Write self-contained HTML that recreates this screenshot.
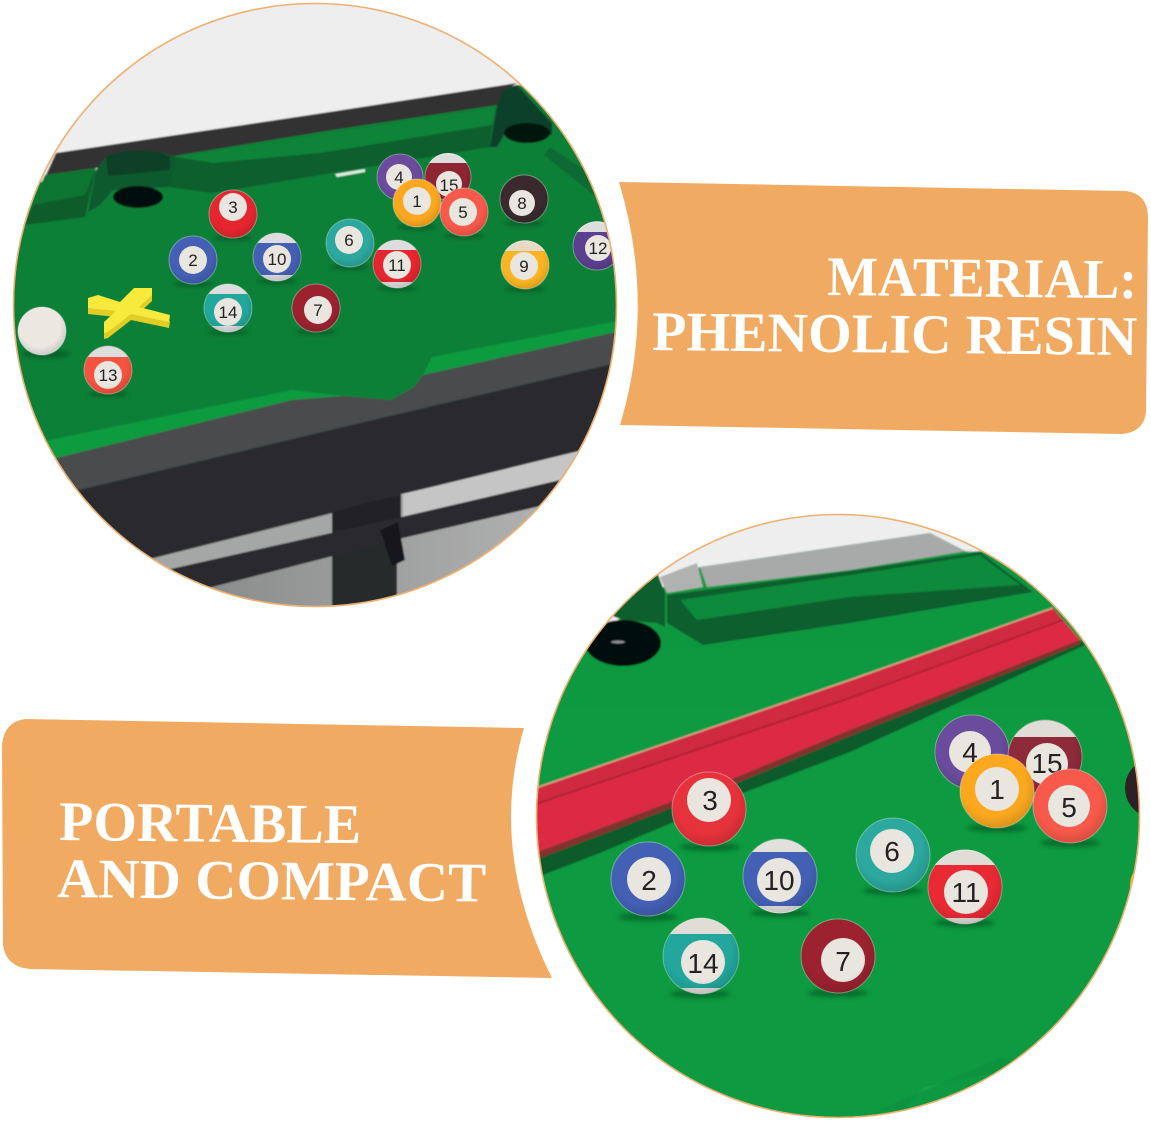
<!DOCTYPE html>
<html><head><meta charset="utf-8">
<style>html,body{margin:0;padding:0;background:#fff}svg{display:block}
text{font-family:"Liberation Sans",sans-serif}
.n{fill:#222;text-anchor:middle;font-size:17px}
.N{fill:#222;text-anchor:middle;font-size:28px}
.t{font-family:"Liberation Serif",serif!important;font-weight:bold;fill:#fff}
.i{fill:#e9e5df}
.s{fill:#034a1f;opacity:.55}
circle[fill="url(#sh)"]{stroke:#fff;stroke-opacity:.35;stroke-width:1}
</style></head><body>
<svg width="1151" height="1124" viewBox="0 0 1151 1124" xmlns="http://www.w3.org/2000/svg">
<defs>
<clipPath id="c1"><circle cx="315" cy="305" r="301"/></clipPath>
<clipPath id="c2"><circle cx="838" cy="816" r="301"/></clipPath>
<filter id="b" x="-5%" y="-5%" width="110%" height="110%"><feGaussianBlur stdDeviation="0.8"/></filter>
<filter id="b3" x="-30%" y="-100%" width="160%" height="300%"><feGaussianBlur stdDeviation="2"/></filter>
<radialGradient id="sh" cx="45%" cy="40%" r="62%"><stop offset="70%" stop-color="#000" stop-opacity="0"/><stop offset="100%" stop-color="#000" stop-opacity=".14"/></radialGradient>
<linearGradient id="f2" x1="0" y1="0" x2="0" y2="1"><stop offset="0" stop-color="#10963f"/><stop offset=".4" stop-color="#0c9a41"/><stop offset="1" stop-color="#0a9a40"/></linearGradient>
<linearGradient id="g1" x1="0" y1="0" x2="1" y2="0"><stop offset="0" stop-color="#7f8180"/><stop offset="1" stop-color="#b9bab9"/></linearGradient>
</defs>

<!-- top circle -->
<g clip-path="url(#c1)">
<g filter="url(#b)">
<rect x="0" y="0" width="640" height="620" fill="#eeeeef"/>
<rect x="100" y="480" width="530" height="140" fill="url(#g1)"/>
<!-- felt -->
<polygon points="0,190 517,85 640,85 640,400 300,480 0,520" fill="#0b8038"/>
<!-- back rail -->
<polygon points="56,153 323,113 517,83 503,92 497,105 320,132 180,155 96,168 46,175" fill="#303232"/>
<!-- left cushion -->
<polygon points="45,175 96,168 85,217 25,225" fill="#0a5c2c"/>
<polygon points="45,175 96,168 85,195 32,205" fill="#0a7533"/>
<!-- pocket hump -->
<path d="M96,170 L106,157 Q120,148 160,152 L176,157 L213,163 L213,193 L170,187 L113,190 L100,205 L88,212Z" fill="#0a5a2d"/>
<path d="M106,157 Q120,148 160,152 L170,157 L170,170 L108,176Z" fill="#083f26"/>
<ellipse cx="138" cy="197" rx="25" ry="11" fill="#040d09"/>
<!-- long back cushion -->
<polygon points="176,157 323,134 495,107 490,147 320,175 213,193 170,187" fill="#0a5e2d"/>
<polygon points="176,157 323,134 495,107 492,125 320,153 213,163" fill="#0a8438"/>
<!-- corner pocket -->
<path d="M503,90 L517,85 L552,123 L552,135 L505,133 L497,147 L490,147 L497,105Z" fill="#07402a"/>
<ellipse cx="527" cy="133" rx="23" ry="10" fill="#05120c"/>
<polygon points="550,147 544,155 600,200 600,180" fill="#0a6a30"/>
<!-- front cushion and rail -->
<polygon points="40,442 292,390 343,396 391,400 414,387 423,375 432,357 613,322 620,322 620,333 423,375 414,387 391,400 343,396 292,400 62,459 40,461" fill="#0a9b40"/>
<polygon points="44,461 292,400 343,396 391,400 414,387 423,375 620,331 620,362 343,427 70,492" fill="#4a4b4e"/>
<polygon points="0,470 44,461 70,492 129,564 100,580 0,580" fill="#2a2c2f" opacity="0"/>
<polygon points="70,492 343,427 620,362 620,446 401,494 336,512 129,564" fill="#2a2c2f"/>
<!-- below rail -->
<polygon points="131,564 332,514 332,533 144,575" fill="#a5a7a6"/>
<polygon points="403,494 587,449 573,477 403,517" fill="#c4c5c4"/>
<polygon points="332,512 401,494 401,525 332,540" fill="#222426"/>
<rect x="332" y="530" width="65" height="90" fill="#27292b"/>
<polygon points="144,575 380,522 573,477 562,501 403,538 177,596" fill="#2a2c2e"/>
<polygon points="380,530 398,522 405,560 392,566" fill="#17191a"/>
<path d="M397,616 Q408,605 447,601 L447,620 L397,620Z" fill="#17191a"/>
<polygon points="335,174 365,169 365,172 337,177" fill="#dfeee4"/>
</g>
<!-- cue ball -->
<ellipse cx="46" cy="354" rx="24" ry="4" class="s" filter="url(#b3)"/>
<circle cx="42" cy="331" r="24" fill="#ece7e1"/><circle cx="42" cy="331" r="24" fill="url(#sh)"/>
<!-- chalk -->
<polygon transform="translate(0,6)" points="88,298 98,295 120,302 134,288 152,288 152,295 139,307 170,315 169,322 131,314 108,332 104,333 104,322 116,311 88,308" fill="#e2cd25"/>
<polygon points="88,298 98,295 120,302 134,288 152,288 152,295 139,307 170,315 169,322 131,314 108,332 104,333 104,322 116,311 88,308" fill="#f7ea3c"/>
<!-- balls top -->
<g>
<ellipse cx="233" cy="238" rx="20" ry="3" class="s" filter="url(#b3)"/>
<ellipse cx="193" cy="284" rx="20" ry="3" class="s" filter="url(#b3)"/>
<ellipse cx="277" cy="281" rx="20" ry="3" class="s" filter="url(#b3)"/>
<ellipse cx="228" cy="332" rx="20" ry="3" class="s" filter="url(#b3)"/>
<ellipse cx="316" cy="332" rx="20" ry="3" class="s" filter="url(#b3)"/>
<ellipse cx="350" cy="267" rx="20" ry="3" class="s" filter="url(#b3)"/>
<ellipse cx="397" cy="288" rx="20" ry="3" class="s" filter="url(#b3)"/>
<ellipse cx="108" cy="394" rx="20" ry="3" class="s" filter="url(#b3)"/>
<ellipse cx="417" cy="227" rx="20" ry="3" class="s" filter="url(#b3)"/>
<ellipse cx="464" cy="236" rx="20" ry="3" class="s" filter="url(#b3)"/>
<ellipse cx="524" cy="223" rx="20" ry="3" class="s" filter="url(#b3)"/>
<ellipse cx="525" cy="289" rx="20" ry="3" class="s" filter="url(#b3)"/>
<g><circle cx="233" cy="214" r="24" fill="#e5252f"/><circle cx="233" cy="207" r="14" class="i"/><circle cx="233" cy="214" r="24" fill="url(#sh)"/><text x="233" y="213" class="n">3</text></g>
<g><circle cx="193" cy="260" r="24" fill="#4460b5"/><circle cx="193" cy="260" r="14" class="i"/><circle cx="193" cy="260" r="24" fill="url(#sh)"/><text x="193" y="266" class="n">2</text></g>
<g><circle cx="277" cy="257" r="24" fill="#4460b5"/><path d="M257.5,243 A24,24 0 0 1 296.5,243Z" fill="#ddd"/><path d="M261,275 A24,24 0 0 0 293,275Z" fill="#ddd"/><circle cx="277" cy="259" r="14" class="i"/><circle cx="277" cy="257" r="24" fill="url(#sh)"/><text x="277" y="265" class="n">10</text></g>
<g><circle cx="228" cy="308" r="24" fill="#23a79d"/><path d="M208.5,294 A24,24 0 0 1 247.5,294Z" fill="#ddd"/><path d="M212,326 A24,24 0 0 0 244,326Z" fill="#ddd"/><circle cx="228" cy="312" r="14" class="i"/><circle cx="228" cy="308" r="24" fill="url(#sh)"/><text x="228" y="318" class="n">14</text></g>
<g><circle cx="316" cy="308" r="24" fill="#9c2230"/><circle cx="318" cy="310" r="14" class="i"/><circle cx="316" cy="308" r="24" fill="url(#sh)"/><text x="318" y="316" class="n">7</text></g>
<g><circle cx="350" cy="243" r="24" fill="#2ca89e"/><circle cx="349" cy="240" r="14" class="i"/><circle cx="350" cy="243" r="24" fill="url(#sh)"/><text x="349" y="246" class="n">6</text></g>
<g><circle cx="397" cy="264" r="24" fill="#e5252f"/><path d="M377.5,250 A24,24 0 0 1 416.5,250Z" fill="#ddd"/><path d="M381,282 A24,24 0 0 0 413,282Z" fill="#ddd"/><circle cx="397" cy="265" r="14" class="i"/><circle cx="397" cy="264" r="24" fill="url(#sh)"/><text x="397" y="271" class="n">11</text></g>
<g><circle cx="108" cy="370" r="24" fill="#f4533f"/><path d="M88,357 A24,24 0 0 1 128,357Z" fill="#ddd"/><circle cx="108" cy="375" r="14" class="i"/><circle cx="108" cy="370" r="24" fill="url(#sh)"/><text x="108" y="381" class="n">13</text></g>
<g><circle cx="400" cy="177" r="23" fill="#6a4b9c"/><circle cx="399" cy="177" r="13" class="i"/><circle cx="400" cy="177" r="23" fill="url(#sh)"/><text x="399" y="183" class="n">4</text></g>
<g><circle cx="448" cy="177" r="23" fill="#8f2433"/><path d="M429,163 A23,23 0 0 1 467,163Z" fill="#ddd"/><circle cx="449" cy="184" r="13" class="i"/><circle cx="448" cy="177" r="23" fill="url(#sh)"/><text x="449" y="191" class="n">15</text></g>
<g><circle cx="417" cy="203" r="24" fill="#fba81f"/><circle cx="417" cy="201" r="14" class="i"/><circle cx="417" cy="203" r="24" fill="url(#sh)"/><text x="417" y="207" class="n">1</text></g>
<g><circle cx="464" cy="212" r="24" fill="#f7594a"/><circle cx="463" cy="212" r="14" class="i"/><circle cx="464" cy="212" r="24" fill="url(#sh)"/><text x="463" y="218" class="n">5</text></g>
<g><circle cx="524" cy="199" r="24" fill="#3a2a2e"/><circle cx="522" cy="203" r="13" class="i"/><circle cx="524" cy="199" r="24" fill="url(#sh)"/><text x="522" y="209" class="n">8</text></g>
<g><circle cx="525" cy="265" r="24" fill="#fbb522"/><path d="M505,251 A24,24 0 0 1 545,251Z" fill="#e6d9c5"/><circle cx="524" cy="266" r="14" class="i"/><circle cx="525" cy="265" r="24" fill="url(#sh)"/><text x="524" y="272" class="n">9</text></g>
<g><circle cx="597" cy="246" r="24" fill="#5c3f8f"/><path d="M577,232 A24,24 0 0 1 617,232Z" fill="#ddd"/><circle cx="598" cy="248" r="13" class="i"/><circle cx="597" cy="246" r="24" fill="url(#sh)"/><text x="598" y="254" class="n">12</text></g>
</g>
</g>
<circle cx="315" cy="305" r="301.5" fill="none" stroke="#eeb070" stroke-width="1.6"/>

<!-- top banner -->
<path d="M619,182 L1125,191 Q1147,193 1148,216 L1146,412 Q1144,432 1122,434 L620,425 Q656,305 619,182Z" fill="#f1aa62"/>
<text class="t" x="827" y="295" font-size="56" textLength="310" lengthAdjust="spacingAndGlyphs" transform="rotate(.6 827 295)">MATERIAL:</text>
<text class="t" x="652" y="350" font-size="56" textLength="485" lengthAdjust="spacingAndGlyphs" transform="rotate(.6 652 350)">PHENOLIC RESIN</text>

<!-- bottom circle -->
<g clip-path="url(#c2)">
<g filter="url(#b)">
<rect x="530" y="510" width="620" height="620" fill="url(#f2)"/>
<!-- background top -->
<polygon points="530,510 1150,510 1150,540 967,552 930,533 700,567 640,600 530,700" fill="#eeeeef"/>
<polygon points="610,615 657,572 665,593 665,627 657,623 623,620" fill="#0a5e2d"/>
<ellipse cx="623" cy="643" rx="38" ry="23" fill="#06100c"/>
<ellipse cx="618" cy="642" rx="7" ry="1.5" fill="#8a8f8f"/>
<!-- grey rail -->
<polygon points="700,567 930,533 967,552 973,550 850,570 707,587" fill="#a8aaa9"/>
<polygon points="660,577 697,563 703,587 667,593" fill="#b0b2b1"/>
<!-- cushion -->
<polygon points="667,595 850,571 980,552 1033,592 850,623 703,645 667,623" fill="#0a5e2d"/>
<polygon points="680,600 850,575 980,555 1020,585 850,597 697,620" fill="#0a8a3a"/>
<!-- cue shadow -->
<polygon points="530,855 737,777 850,730 1080,640 1085,645 850,752 743,793 600,853 530,880" fill="#0a5a2c"/>
<!-- cues -->
<polygon points="530,790 850,680 1053,608 1063,620 850,698 530,806" fill="#cf2a3f"/>
<polygon points="530,806 850,698 1063,620 1080,640 850,730 737,777 530,855" fill="#dc2c44"/>
<polyline points="530,790 850,680 1053,608" stroke="#dfa58a" stroke-width="1.5" fill="none"/>
<polyline points="530,806 850,698 1063,620" stroke="#a81d30" stroke-width="1.5" fill="none"/>
<polygon points="530,855 737,777 850,730 1080,640 1080,644 850,736 737,783 530,862" fill="#b5212f" opacity=".7"/>
<polygon points="903,1108 925,1087 993,1072 975,1110" fill="#12a64a"/>
<polygon points="880,1110 1000,1058 1040,1070 1000,1120" fill="#0b8a3b" opacity=".5"/>
</g>
<!-- balls bottom -->
<ellipse cx="710" cy="847" rx="30" ry="4" class="s" filter="url(#b3)"/>
<ellipse cx="648" cy="917" rx="30" ry="4" class="s" filter="url(#b3)"/>
<ellipse cx="780" cy="913" rx="30" ry="4" class="s" filter="url(#b3)"/>
<ellipse cx="700" cy="994" rx="30" ry="4" class="s" filter="url(#b3)"/>
<ellipse cx="838" cy="993" rx="30" ry="4" class="s" filter="url(#b3)"/>
<ellipse cx="893" cy="891" rx="30" ry="4" class="s" filter="url(#b3)"/>
<ellipse cx="965" cy="923" rx="30" ry="4" class="s" filter="url(#b3)"/>
<ellipse cx="997" cy="828" rx="30" ry="4" class="s" filter="url(#b3)"/>
<ellipse cx="1070" cy="843" rx="30" ry="4" class="s" filter="url(#b3)"/>
<g><circle cx="709" cy="809" r="37" fill="#e6323a"/><circle cx="709" cy="800" r="22" class="i"/><circle cx="709" cy="809" r="37" fill="url(#sh)"/><text x="710" y="810" class="N">3</text></g>
<g><circle cx="648" cy="879" r="37" fill="#4460b5"/><circle cx="649" cy="879" r="22" class="i"/><circle cx="648" cy="879" r="37" fill="url(#sh)"/><text x="649" y="890" class="N">2</text></g>
<g><circle cx="780" cy="876" r="37" fill="#4460b5"/><path d="M752,852 A37,37 0 0 1 808,852Z" fill="#e2e0db"/><path d="M758,906 A37,37 0 0 0 802,906Z" fill="#e2e0db"/><circle cx="779" cy="880" r="22" class="i"/><circle cx="780" cy="876" r="37" fill="url(#sh)"/><text x="779" y="890" class="N">10</text></g>
<g><circle cx="701" cy="956" r="38" fill="#23a79d"/><path d="M670,934 A38,38 0 0 1 732,934Z" fill="#e0ddd7"/><path d="M681,988 A38,38 0 0 0 721,988Z" fill="#e0ddd7"/><circle cx="703" cy="962" r="22" class="i"/><circle cx="701" cy="956" r="38" fill="url(#sh)"/><text x="703" y="973" class="N">14</text></g>
<g><circle cx="838" cy="956" r="37" fill="#9c2230"/><circle cx="843" cy="960" r="22" class="i"/><circle cx="838" cy="956" r="37" fill="url(#sh)"/><text x="843" y="971" class="N">7</text></g>
<g><circle cx="893" cy="855" r="37" fill="#2ca89e"/><circle cx="892" cy="851" r="22" class="i"/><circle cx="893" cy="855" r="37" fill="url(#sh)"/><text x="892" y="861" class="N">6</text></g>
<g><circle cx="965" cy="887" r="37" fill="#e92a35"/><path d="M935,865 A37,37 0 0 1 995,865Z" fill="#e0ddd7"/><path d="M945,918 A37,37 0 0 0 985,918Z" fill="#e0ddd7"/><circle cx="966" cy="892" r="22" class="i"/><circle cx="965" cy="887" r="37" fill="url(#sh)"/><text x="966" y="902" class="N">11</text></g>
<g><circle cx="972" cy="752" r="37" fill="#6a4b9c"/><circle cx="970" cy="752" r="21" class="i"/><circle cx="972" cy="752" r="37" fill="url(#sh)"/><text x="970" y="762" class="N">4</text></g>
<g><circle cx="1045" cy="757" r="37" fill="#8f2a3a"/><path d="M1014,737 A37,37 0 0 1 1076,737Z" fill="#e0ddd7"/><circle cx="1047" cy="764" r="21" class="i"/><circle cx="1045" cy="757" r="37" fill="url(#sh)"/><text x="1047" y="773" class="N">15</text></g>
<g><circle cx="997" cy="791" r="37" fill="#fba81f"/><circle cx="997" cy="789" r="22" class="i"/><circle cx="997" cy="791" r="37" fill="url(#sh)"/><text x="997" y="799" class="N">1</text></g>
<g><circle cx="1070" cy="806" r="37" fill="#f7594a"/><circle cx="1069" cy="806" r="21" class="i"/><circle cx="1070" cy="806" r="37" fill="url(#sh)"/><text x="1069" y="817" class="N">5</text></g>
<circle cx="1155" cy="788" r="30" fill="#2c2226"/>
<circle cx="1155" cy="885" r="25" fill="#f6b21e"/>
</g>
<circle cx="838" cy="816" r="301.5" fill="none" stroke="#eeb070" stroke-width="1.6"/>

<!-- bottom banner -->
<path d="M25,719 L524,728 Q488,850 552,978 L30,969 Q6,967 3,945 L2,745 Q4,722 25,719Z" fill="#f1aa62"/>
<text class="t" x="59" y="840" font-size="56" textLength="302" lengthAdjust="spacingAndGlyphs" transform="rotate(.6 59 840)">PORTABLE</text>
<text class="t" x="57" y="897" font-size="56" textLength="429" lengthAdjust="spacingAndGlyphs" transform="rotate(.6 57 897)">AND COMPACT</text>
</svg>
</body></html>
